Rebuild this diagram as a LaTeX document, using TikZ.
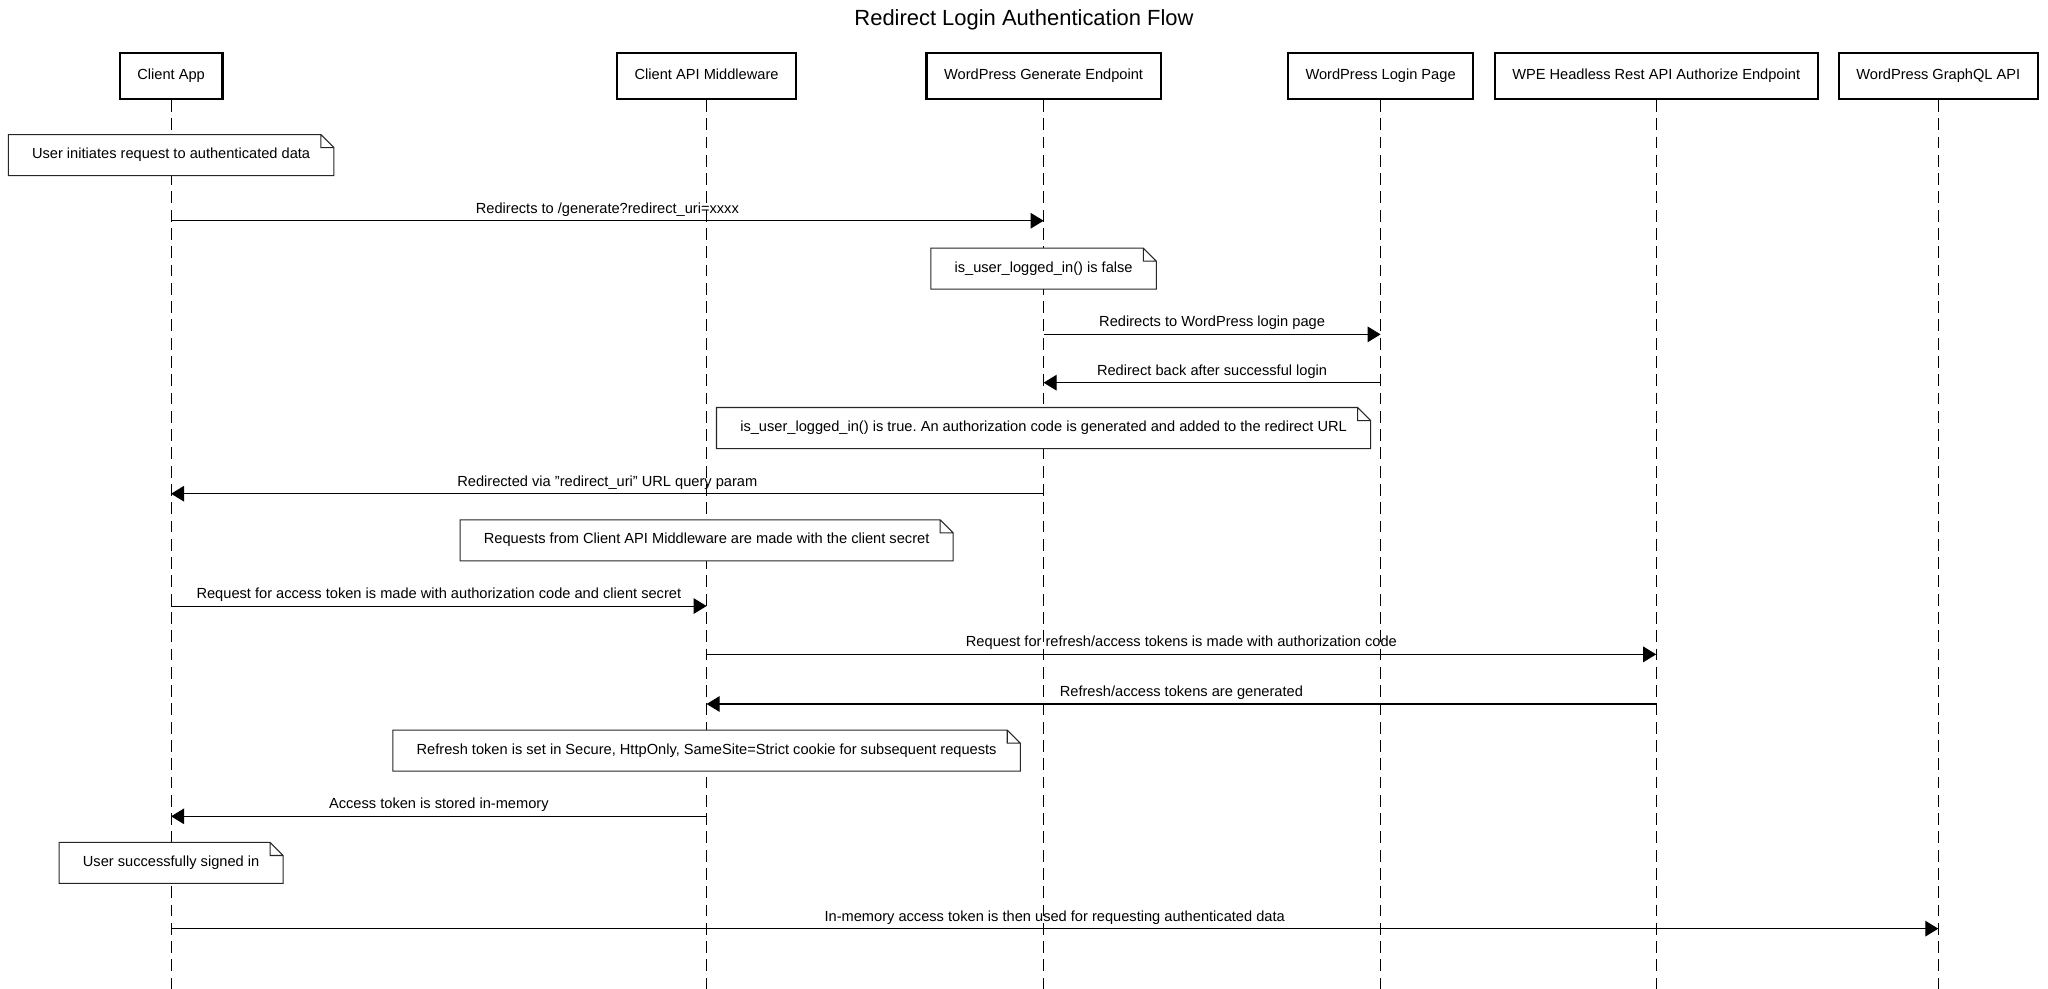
\documentclass[tikz,border=0pt]{standalone}
\usepackage{fontspec}
\setmainfont{Liberation Sans}
\usetikzlibrary{arrows.meta}
\newcommand{\msgfont}{\fontsize{11.2}{13}\selectfont\frenchspacing}
\begin{document}
\begin{tikzpicture}[x=1pt,y=-1pt,
    actor/.style={draw,line width=1.6pt,fill=white,inner xsep=13.5pt,
      text height=8pt,text depth=2.5pt,minimum height=35pt,anchor=north,font=\msgfont},
    life/.style={line width=0.8pt,dash pattern=on 9pt off 5pt},
    msg/.style={line width=0.8pt,-{Triangle[length=10pt,width=12pt]}},
    note/.style={fill=white,inner xsep=18pt,minimum height=31pt,
      text height=8pt,text depth=2.5pt,anchor=north,font=\msgfont},
    noteline/.style={line width=0.8pt,draw=black!85,line join=miter}]
  \useasboundingbox (0,0) rectangle (1568,757);
  \node[font=\fontsize{16.8}{20}\selectfont] (title) at (784,15)
        {Redirect Login Authentication Flow};
  % participants
  \node[actor] (app)   at (131,40)  {Client App};
  \node[actor] (mid)   at (541,40)  {Client API Middleware};
  \node[actor] (gen)   at (799,40)  {WordPress Generate Endpoint};
  \node[actor] (login) at (1057,40) {WordPress Login Page};
  \node[actor] (wpe)   at (1268,40) {WPE Headless Rest API Authorize Endpoint};
  \node[actor] (gql)   at (1484,40) {WordPress GraphQL API};
  \foreach \p in {app,mid,gen,login,wpe,gql}
    \draw[life] (\p.south) -- (\p |- 0,757);
  % notes
  \node[note] (n1) at (131,103) {User initiates request to authenticated data};
  \node[note] (n2) at (799,190) {is\_user\_logged\_in() is false};
  \node[note] (n3) at (799,312)
        {is\_user\_logged\_in() is true. An authorization code is generated and added to the redirect URL};
  \node[note] (n4) at (541,398)
        {Requests from Client API Middleware are made with the client secret};
  \node[note] (n5) at (541,559)
        {Refresh token is set in Secure, HttpOnly, SameSite=Strict cookie for subsequent requests};
  \node[note] (n6) at (131,645) {User successfully signed in};
  \foreach \n in {n1,n2,n3,n4,n5,n6}
    \draw[noteline] (\n.south west) -- (\n.north west)
          -- ([xshift=-10pt]\n.north east) -- ([yshift=-10pt]\n.north east)
          -- (\n.south east) -- cycle
          ([xshift=-10pt]\n.north east) |- ([yshift=-10pt]\n.north east);
  % messages
  \draw[msg] (app |- 0,169) -- (gen |- 0,169)
        node[midway,above,inner sep=3pt,font=\msgfont] {Redirects to /generate?redirect\_uri=xxxx};
  \draw[msg] (gen |- 0,256) -- (login |- 0,256)
        node[midway,above,inner sep=3pt,font=\msgfont] {Redirects to WordPress login page};
  \draw[msg] (login |- 0,293) -- (gen |- 0,293)
        node[midway,above,inner sep=3pt,font=\msgfont] {Redirect back after successful login};
  \draw[msg] (gen |- 0,378) -- (app |- 0,378)
        node[midway,above,inner sep=3pt,font=\msgfont] {Redirected via "redirect\_uri" URL query param};
  \draw[msg] (app |- 0,464) -- (mid |- 0,464)
        node[midway,above,inner sep=3pt,font=\msgfont] {Request for access token is made with authorization code and client secret};
  \draw[msg] (mid |- 0,501) -- (wpe |- 0,501)
        node[midway,above,inner sep=3pt,font=\msgfont] {Request for refresh/access tokens is made with authorization code};
  \draw[msg] (wpe |- 0,539) -- (mid |- 0,539)
        node[midway,above,inner sep=3pt,font=\msgfont] {Refresh/access tokens are generated};
  \draw[msg] (mid |- 0,625) -- (app |- 0,625)
        node[midway,above,inner sep=3pt,font=\msgfont] {Access token is stored in-memory};
  \draw[msg] (app |- 0,711) -- (gql |- 0,711)
        node[midway,above,inner sep=3pt,font=\msgfont] {In-memory access token is then used for requesting authenticated data};
\end{tikzpicture}
\end{document}
